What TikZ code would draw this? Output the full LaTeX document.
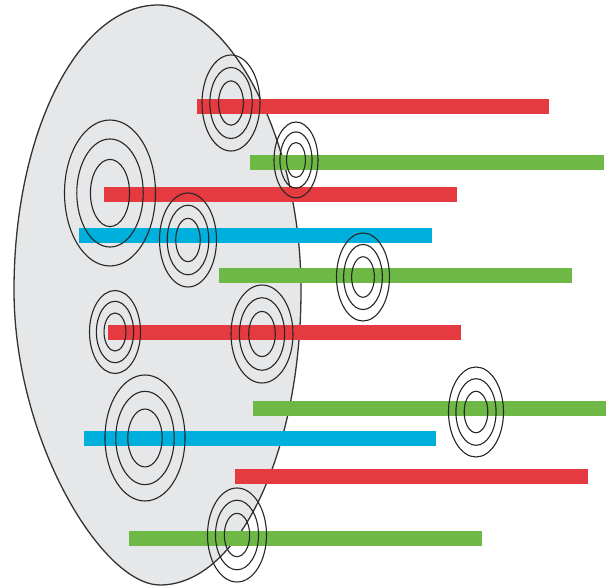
\documentclass[tikz,border=0pt]{standalone}
\usepackage{tikz}
\definecolor{barred}{RGB}{229,58,64}
\definecolor{bargreen}{RGB}{110,184,70}
\definecolor{barblue}{RGB}{0,176,220}
\definecolor{disc}{RGB}{230,231,232}
\tikzset{
  bar/.style={line width=15pt},
  ring/.style={draw=black!85, line width=1.1pt},
}
% concentric rings: centre x, centre y, outer rx, outer ry
\newcommand{\ringgroup}[4]{%
  \draw[ring] (#1,#2) ellipse [x radius=#3, y radius=#4];
  \draw[ring] (#1,#2) ellipse [x radius=0.73*#3, y radius=0.74*#4];
  \draw[ring] (#1,#2) ellipse [x radius=0.43*#3, y radius=0.46*#4];
}
\begin{document}
\begin{tikzpicture}[x=1pt,y=-1pt]
\useasboundingbox (0,0) rectangle (606,588);
% large egg-shaped disc
\draw[fill=disc, draw=black!80, line width=1.3pt]
  (158,5) .. controls (230,5) and (301,140) .. (301,290)
          .. controls (301,453) and (238,585) .. (160,585)
          .. controls (102,585) and (14,440) .. (14,290)
          .. controls (14,133) and (78,5) .. (158,5) -- cycle;
% bars
\draw[bar, barred]   (197,106.5) -- (549,106.5);
\draw[bar, bargreen] (250,163) -- (604,163);
\draw[bar, barred]   (104,195) -- (457,195);
\draw[bar, barblue]  (79,235.5) -- (432,235.5);
\draw[bar, bargreen] (219,276) -- (572,276);
\draw[bar, barred]   (108,332.5) -- (461,332.5);
\draw[bar, bargreen] (253,409) -- (606,409);
\draw[bar, barblue]  (84,439) -- (436,439);
\draw[bar, barred]   (235,476.5) -- (588,476.5);
\draw[bar, bargreen] (129,538) -- (482,538);
% rings
\ringgroup{231}{103}{29}{48}
\ringgroup{296}{160}{22}{38}
\ringgroup{110}{193}{45.5}{73}
\ringgroup{188}{240}{28.5}{47}
\ringgroup{363}{277}{26.5}{44}
\ringgroup{115}{332}{25.5}{41.5}
\ringgroup{262}{334}{31}{49}
\ringgroup{145}{438}{40}{63}
\ringgroup{476}{412}{27.5}{45}
\ringgroup{237}{535}{29.5}{47}
\end{tikzpicture}
\end{document}
